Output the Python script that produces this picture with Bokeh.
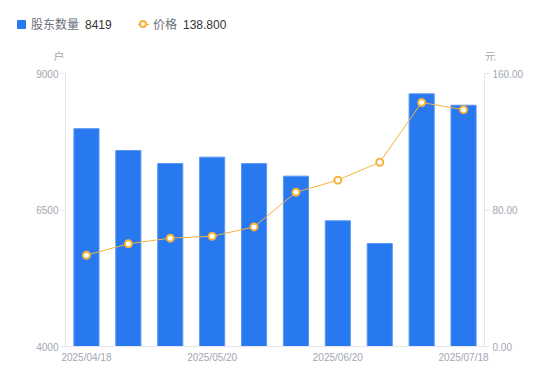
from bokeh.plotting import figure
from bokeh.models import (ColumnDataSource, Range1d, LinearAxis, FixedTicker,
                          NumeralTickFormatter, Div)
from bokeh.layouts import column
from bokeh.embed import file_html
from bokeh.resources import INLINE

dates = ["2025/04/18", "2025/04/30", "2025/05/09", "2025/05/20", "2025/05/30",
         "2025/06/10", "2025/06/20", "2025/06/30", "2025/07/10", "2025/07/18"]
holders = [7990, 7590, 7352, 7468, 7350, 7120, 6303, 5887, 8628, 8419]
prices = [53.5, 60.2, 63.5, 64.6, 70.1, 90.4, 97.5, 108.0, 143.0, 138.8]
series_names = ["股东数量", "价格"]
units = ["户", "元"]
shown_ticks = [0, 3, 6, 9]
left_ticks = [4000, 6500, 9000]
right_ticks = [0, 80, 160]

FONT = "'Liberation Sans', Arial, 'Noto Sans CJK SC', sans-serif"
BLUE = "#2878F0"
ORANGE = "#F7B23B"
TICKC = "#A3A6B4"
AXC = "#E3E5EA"
HDR_H = 60

xs = list(range(len(dates)))
src = ColumnDataSource(dict(x=xs, h=holders, p=prices))


def span(left, top, text, color, size=12, extra=""):
    return (f'<span style="position:absolute;display:block;left:{left}px;top:{top}px;'
            f'line-height:14px;font-size:{size}px;color:{color};white-space:nowrap;{extra}">'
            f'{text}</span>')


def box(left, top, w, h, style):
    return (f'<span style="position:absolute;display:block;box-sizing:border-box;'
            f'left:{left}px;top:{top}px;width:{w}px;height:{h}px;{style}"></span>')


html = [f'<div style="position:relative;width:545px;height:{HDR_H}px;font-family:{FONT};">']
html.append(box(17, 20, 9, 9, f"background:{BLUE};border-radius:1px;"))
html.append(span(31, 17.5, series_names[0], "#6B6F7A"))
html.append(span(85, 17.5, str(holders[-1]), "#333333"))
html.append(box(137.5, 23.5, 11, 1.5, f"background:{ORANGE};"))
html.append(box(139, 20.25, 8, 8, f"border:2px solid {ORANGE};border-radius:50%;background:white;"))
html.append(span(153, 17.5, series_names[1], "#6B6F7A"))
html.append(span(183, 17.5, "%.3f" % prices[-1], "#333333"))
html.append(span(53.5, 50, units[0], TICKC, size=11))
html.append(span(484.5, 50, units[1], TICKC, size=11))
html.append('</div>')
hdr = Div(text="".join(html), width=545, height=HDR_H, margin=0)

p = figure(width=545, height=375 - HDR_H, x_range=Range1d(-0.5, len(dates) - 0.5),
           y_range=Range1d(4000, 9000), toolbar_location=None, output_backend="svg",
           min_border_left=65, min_border_right=61, min_border_top=73 - HDR_H,
           min_border_bottom=29, margin=0)
p.extra_y_ranges = {"price": Range1d(0, 160)}
p.grid.visible = False
p.outline_line_color = None

p.vbar(x="x", top="h", bottom=4000, width=0.6, source=src,
       fill_color=BLUE, line_color="#5C98F3", line_width=1)
p.line(x="x", y="p", source=src, y_range_name="price", line_color=ORANGE, line_width=1)
p.scatter(x="x", y="p", source=src, y_range_name="price", marker="circle", size=7,
          fill_color="white", line_color=ORANGE, line_width=2)

xa = p.xaxis[0]
xa.ticker = FixedTicker(ticks=shown_ticks)
xa.major_label_overrides = {i: dates[i] for i in shown_ticks}
xa.major_tick_out = 0
xa.major_tick_in = 0
xa.minor_tick_out = 0
xa.minor_tick_in = 0
xa.major_label_standoff = 5

ya = p.yaxis[0]
ya.ticker = FixedTicker(ticks=left_ticks)
ya.minor_tick_out = 0
ya.minor_tick_in = 0
ya.major_tick_in = 0
ya.major_tick_out = 5
ya.major_label_standoff = 2

ra = LinearAxis(y_range_name="price", ticker=FixedTicker(ticks=right_ticks),
                formatter=NumeralTickFormatter(format="0.00"))
ra.minor_tick_out = 0
ra.minor_tick_in = 0
ra.major_tick_in = 0
ra.major_tick_out = 5
ra.major_label_standoff = 3
p.add_layout(ra, "right")

for ax in [xa, ya, ra]:
    ax.axis_line_color = AXC
    ax.major_tick_line_color = AXC
    ax.major_label_text_color = TICKC
    ax.major_label_text_font = "Liberation Sans"
    ax.major_label_text_font_size = "10px"

layout = column(hdr, p, spacing=0)
open("out.html", "w").write(file_html(layout, INLINE))
